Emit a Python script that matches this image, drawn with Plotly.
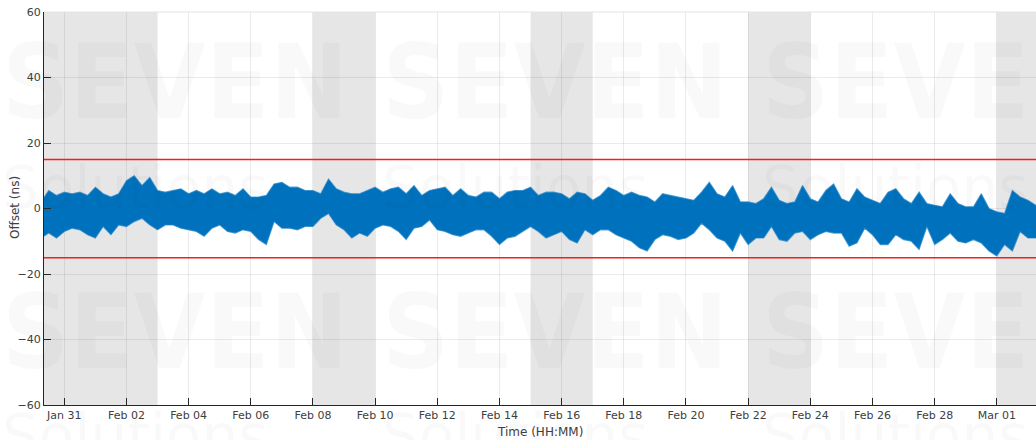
import pandas as pd
import plotly.graph_objects as go

# ---------------- data ----------------
# sample times: every 6 h starting 2020-01-30 06:00
start_time = "2020-01-30 06:00"
upper = [2, 5.5, 4, 5, 4.5, 5, 4, 6.5, 4.5, 3.5, 4.5, 8.5, 10, 7, 9.5, 5.5, 5, 5.5, 6, 4.5,
         5.5, 4.5, 6, 4.5, 5, 4, 6, 3.5, 3.5, 4, 7.5, 8, 6.5, 6.5, 5.5, 5.5, 4.5, 9, 6, 5,
         4.5, 4.5, 5.5, 6.5, 5, 6, 6.5, 4.5, 7, 4, 5.5, 6, 6.5, 4, 6, 4, 3.5, 5, 5, 3,
         5, 5.5, 5.5, 6.5, 4, 5, 5, 4.5, 3, 5, 4.5, 2.5, 4, 6.5, 5.5, 4, 5, 4, 3.5, 2,
         4.5, 4, 3.5, 3, 2.5, 5, 8, 4.5, 3.5, 7, 2, 2, 1.5, 3, 6.5, 2.5, 1.5, 2, 7, 3,
         2, 5.5, 7.5, 3, 2, 6, 3.5, 2.5, 1.5, 5, 6, 3, 1.5, 5, 1.5, 1, 0.5, 4.5, 1.5, 0.5,
         0.5, 4.5, 0, -1, -1.5, 5.5, 3.5, 2.5, 1, 1]
lower = [-9, -7.5, -9, -7, -6, -6.5, -8, -9, -5.5, -8, -5, -5.5, -4, -3, -5, -6.5, -5, -5, -6, -6.5,
         -7, -8.5, -6, -5, -7, -7.5, -6.5, -7, -9.5, -11, -4, -6, -6, -6.5, -5.5, -5.5, -3, -1.5, -5, -6.5,
         -9, -7.5, -8.5, -6, -5, -5.5, -7, -9.5, -6, -5.5, -3.5, -6.5, -7, -8, -8.5, -7.5, -6.5, -6.5, -8.5, -11,
         -9, -8.5, -7, -5.5, -7, -9, -8, -7, -9.5, -10.5, -6.5, -8, -6.5, -6.5, -8, -9, -10, -12, -13, -9.5,
         -8, -8.5, -9.5, -9, -7.5, -4.5, -6.5, -9, -10, -13, -7.5, -11, -9, -9, -5.5, -9.5, -10, -7.5, -7, -9.5,
         -8, -7, -7.5, -7.5, -11.5, -10.5, -6, -8, -11, -11, -8, -9.5, -10, -12.5, -5.5, -11, -9.5, -7.5, -10, -10.5,
         -9.5, -10.5, -13, -14.5, -11, -13, -7, -9, -9, -9]
times = pd.date_range(start_time, periods=len(upper), freq="6h")

limits = [15, -15]
band_starts = ["2020-01-30 00:00", "2020-02-08", "2020-02-15", "2020-02-22", "2020-03-01"]
band_ends = ["2020-02-03", "2020-02-10", "2020-02-17", "2020-02-24", "2020-03-03"]
x_range = ["2020-01-30 08:20", "2020-03-02 06:15"]
y_ticks = [60, 40, 20, 0, -20, -40, -60]

BLUE = "#0072BD"
TXT = "#404040"
FONT = "DejaVu Sans"

fig = go.Figure()
fig.add_trace(go.Scatter(x=times, y=upper, mode="lines",
                         line=dict(color="rgba(30,130,200,0.7)", width=1.2),
                         hoverinfo="skip", showlegend=False))
fig.add_trace(go.Scatter(x=times, y=lower, mode="lines", fill="tonexty",
                         fillcolor=BLUE,
                         line=dict(color="rgba(30,130,200,0.7)", width=1.2),
                         hoverinfo="skip", showlegend=False))

# limit lines
for v in limits:
    fig.add_trace(go.Scatter(x=[x_range[0], x_range[1]], y=[v, v], mode="lines",
                             line=dict(color="#ff1a1a", width=1.5),
                             hoverinfo="skip", showlegend=False))

shapes = []
for s, e in zip(band_starts, band_ends):
    shapes.append(dict(type="rect", xref="x", yref="paper", x0=s, x1=e, y0=0, y1=1,
                       fillcolor="#e6e6e6", line=dict(width=0), layer="below"))
# faint top border
shapes.append(dict(type="line", xref="paper", yref="paper", x0=0, x1=1, y0=1, y1=1,
                   line=dict(color="#e3e3e3", width=1)))

annotations = []
# watermark
for xp in [0, 380, 760]:
    for yp_word, yp_sub in [(82, 188), (332, 436)]:
        annotations.append(dict(text="<b>SEVEN</b>", xref="paper", yref="paper",
                                x=(xp - 44) / 992, y=(405.5 - yp_word) / 393,
                                xanchor="left", yanchor="middle", showarrow=False,
                                font=dict(family="DejaVu Sans Condensed", size=104,
                                          color="rgba(0,0,0,0.025)")))
        annotations.append(dict(text="Solutions", xref="paper", yref="paper",
                                x=(xp - 44) / 992, y=(405.5 - yp_sub) / 393,
                                xanchor="left", yanchor="middle", showarrow=False,
                                font=dict(family="DejaVu Sans", size=58,
                                          color="rgba(0,0,0,0.025)")))
# axis titles
annotations.append(dict(text="Time (HH:MM)", xref="paper", yref="paper", x=0.5, y=(405.5 - 432) / 393,
                        xanchor="center", yanchor="middle", showarrow=False,
                        font=dict(family=FONT, size=12, color=TXT)))
annotations.append(dict(text="Offset (ns)", xref="paper", yref="paper", x=(15 - 44) / 992,
                        y=(405.5 - 208.5) / 393, xanchor="center", yanchor="middle",
                        textangle=-90, showarrow=False,
                        font=dict(family=FONT, size=12, color=TXT)))

fig.update_layout(
    width=1036, height=440,
    margin=dict(l=44, r=0, t=12, b=35),
    paper_bgcolor="white", plot_bgcolor="white",
    shapes=shapes, annotations=annotations,
    font=dict(family=FONT, size=11, color=TXT),
    xaxis=dict(range=x_range, type="date", tick0="2020-01-31", dtick=2 * 86400000,
               tickformat="%b %d", ticks="inside", ticklen=7, tickcolor="#262626",
               showline=True, linecolor="#262626", linewidth=1,
               showgrid=True, gridcolor="rgba(0,0,0,0.08)", gridwidth=1,
               zeroline=False, tickfont=dict(size=11, color=TXT)),
    yaxis=dict(range=[-60, 60], tickvals=y_ticks, ticks="inside", ticklen=7,
               tickcolor="#262626", showline=True, linecolor="#262626", linewidth=1,
               showgrid=True, gridcolor="rgba(0,0,0,0.08)", gridwidth=1,
               zeroline=False, tickfont=dict(size=11, color=TXT)),
)

fig.write_html("out.html", config={"displayModeBar": False},
               post_script="document.body.style.margin='0';document.body.style.padding='0';")
